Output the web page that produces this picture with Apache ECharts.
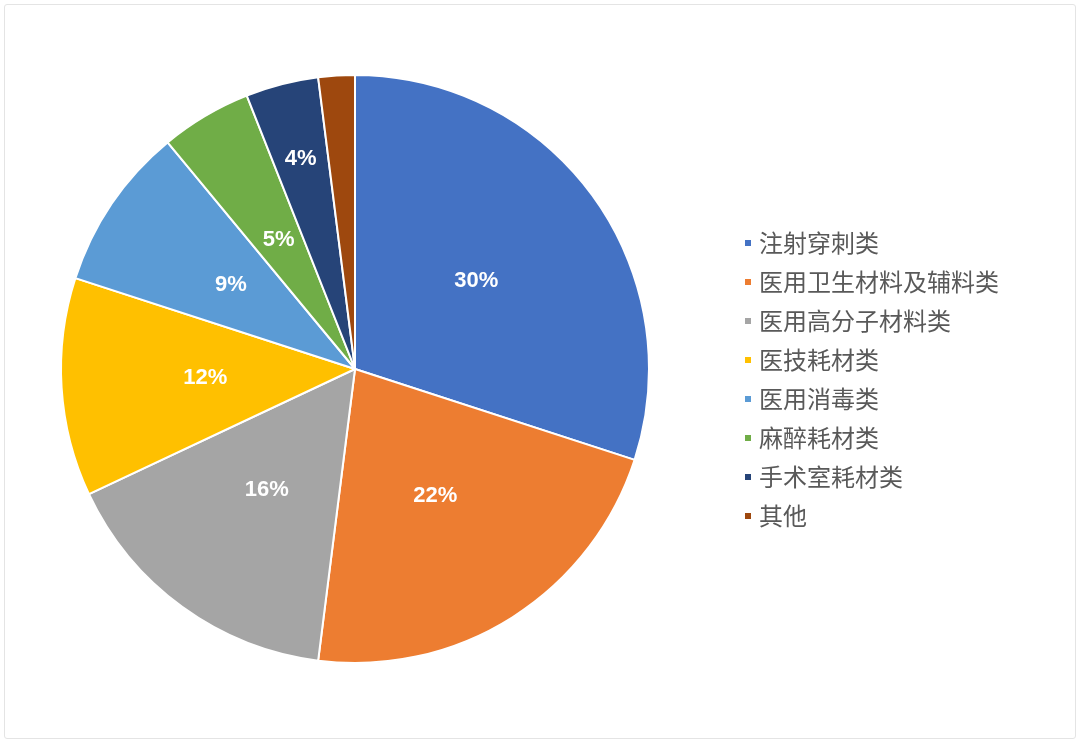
<!DOCTYPE html>
<html>
<head>
    <meta charset="utf-8">
    <title>医用耗材分类占比</title>
    <script src="https://cdn.jsdelivr.net/npm/echarts@6/dist/echarts.min.js"></script>
    <style>
        body { margin: 0; background: #fff; }
        #frame { position: absolute; left: 4px; top: 4px; width: 1070px; height: 733px;
                 border: 1px solid #e4e4e4; border-radius: 3px; }
        #main { position: absolute; left: 0; top: 0; width: 1080px; height: 743px; }
    </style>
</head>
<body>
    <div id="frame"></div>
    <div id="main"></div>

    <script type="text/javascript">
        // 分类及占比 (%)
        var categories = ['注射穿刺类', '医用卫生材料及辅料类', '医用高分子材料类', '医技耗材类',
                          '医用消毒类', '麻醉耗材类', '手术室耗材类', '其他'];
        var shares = [30, 22, 16, 12, 9, 5, 4, 2];
        var colors = ['#4472C4', '#ED7D31', '#A5A5A5', '#FFC000', '#5B9BD5', '#70AD47', '#264478', '#9E480E'];

        var pieData = categories.map(function (name, i) {
            var item = { name: name, value: shares[i], itemStyle: { color: colors[i] } };
            if (name === '其他') item.label = { show: false };
            return item;
        });

        var myChart = echarts.init(document.getElementById('main'));

        var option = {
            animation: false,
            legend: {
                orient: 'vertical',
                left: 738,
                top: 226,
                icon: 'rect',
                itemWidth: 8,
                itemHeight: 8,
                itemGap: 15,
                textStyle: {
                    fontFamily: 'Noto Sans CJK SC',
                    fontSize: 24,
                    lineHeight: 24,
                    color: '#595959',
                    padding: [0, 0, 0, 2]
                },
                data: categories
            },
            series: [{
                type: 'pie',
                center: [355, 369],
                radius: [0, 294],
                startAngle: 90,
                clockwise: true,
                itemStyle: {
                    borderColor: '#fff',
                    borderWidth: 2
                },
                label: {
                    position: 'inner',
                    formatter: '{c}%',
                    color: '#fff',
                    fontFamily: 'Liberation Sans',
                    fontWeight: 'bold',
                    fontSize: 22
                },
                labelLine: { show: false },
                // 手术室耗材类的标签画得更靠外
                labelLayout: function (params) {
                    if (params.dataIndex === 6) return { dx: -17, dy: -65 };
                },
                emphasis: { disabled: true },
                data: pieData
            }]
        };

        myChart.setOption(option);
    </script>
</body>
</html>
